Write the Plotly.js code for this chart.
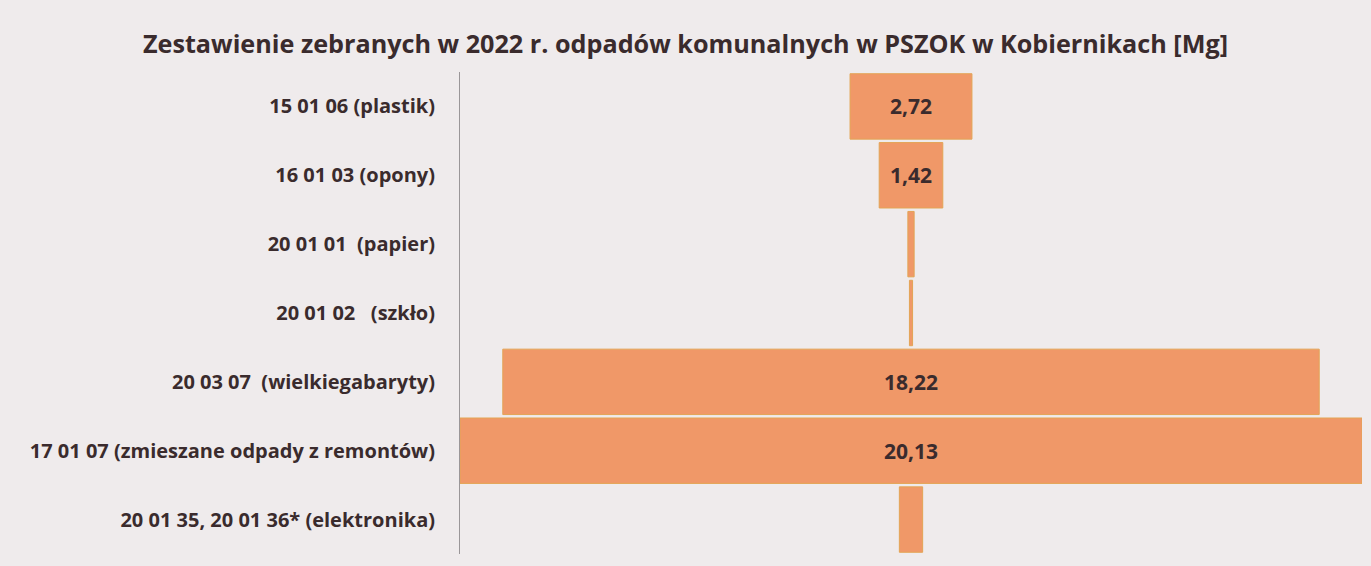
<!DOCTYPE html>
<html>
<head>
<meta charset="utf-8">
<script src="https://cdn.plot.ly/plotly-3.0.1.min.js"></script>
<style>
html,body{margin:0;padding:0;background:#EFEBEC;}
#chart{width:1371px;height:566px;}
</style>
</head>
<body>
<div id="chart"></div>
<script>
const categories = [
  "15 01 06 (plastik)",
  "16 01 03 (opony)",
  "20 01 01\u00a0 (papier)",
  "20 01 02\u00a0\u00a0 (szkło)",
  "20 03 07\u00a0 (wielkiegabaryty)",
  "17 01 07 (zmieszane odpady z remontów)",
  "20 01 35, 20 01 36* (elektronika)"
];
const values = [2.72, 1.42, 0.14, 0.07, 18.22, 20.13, 0.52];

const textColor = "#3A2B2D";
const barColor = "#F09868";
const fontFam = "'Open Sans', 'DejaVu Sans', sans-serif";
const half = Math.max(...values) / 2;

const trace = {
  type: "funnel",
  orientation: "h",
  y: categories,
  x: values,
  texttemplate: "<b>%{x:.2f}</b>",
  textinfo: "value",
  textposition: "inside",
  insidetextanchor: "middle",
  textfont: {family: fontFam, size: 21, color: textColor},
  marker: {color: barColor, line: {color: "#E3A455", width: 1}},
  connector: {visible: false},
  hoverinfo: "y+x"
};

const layout = {
  width: 1371,
  height: 566,
  paper_bgcolor: "#EFEBEC",
  plot_bgcolor: "rgba(0,0,0,0)",
  separators: ", ",
  margin: {l: 460, r: 9, t: 72, b: 12},
  funnelgap: 0.05,
  uniformtext: {mode: "hide", minsize: 14},
  title: {
    text: "<b>Zestawienie zebranych w 2022 r. odpadów komunalnych w PSZOK w Kobiernikach [Mg]</b>",
    x: 0.5, xref: "container", xanchor: "center",
    y: 0.922, yref: "container", yanchor: "middle",
    font: {family: fontFam, size: 25.2, color: textColor}
  },
  xaxis: {visible: false, showgrid: false, zeroline: false, range: [-half, half]},
  yaxis: {
    showline: true, linecolor: "#9A9698", linewidth: 1,
    showgrid: false, ticks: "", ticklabelstandoff: 20,
    tickfont: {family: fontFam, size: 20, color: textColor, weight: "bold"},
    autorange: "reversed"
  },
  showlegend: false
};

Plotly.newPlot("chart", [trace], layout, {displayModeBar: false, staticPlot: true});
</script>
</body>
</html>
